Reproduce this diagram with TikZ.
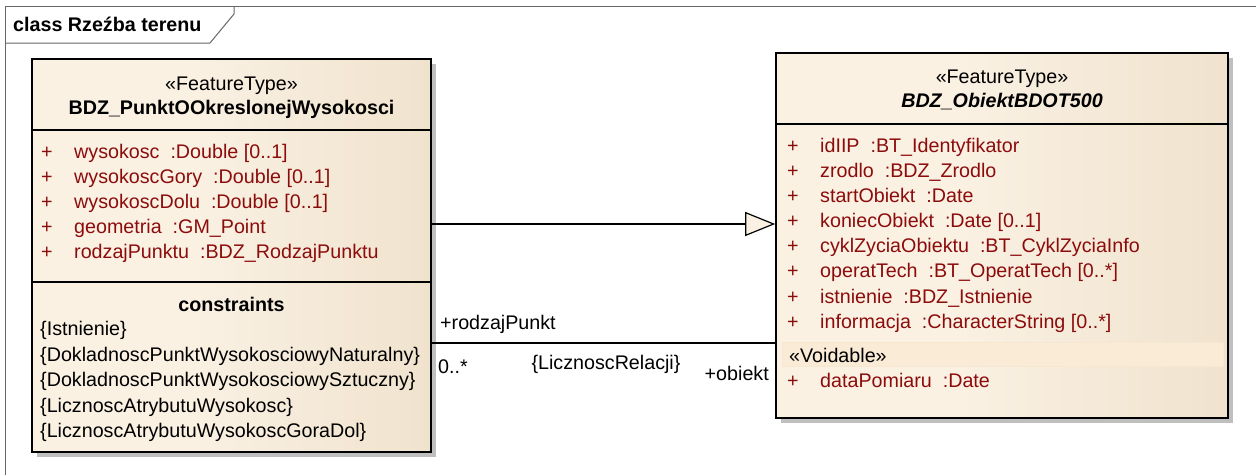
\documentclass[tikz,border=0pt]{standalone}
\usepackage{fontspec}
\setmainfont{Liberation Sans}
\usetikzlibrary{arrows.meta,shadows}
\definecolor{creme}{RGB}{250,241,227}
\definecolor{brun}{RGB}{232,215,188}
\definecolor{rouge}{RGB}{140,12,12}
\definecolor{voidable}{RGB}{250,235,214}
\pgfdeclarehorizontalshading{degrade}{100bp}{color(0bp)=(creme); color(45bp)=(creme); color(100bp)=(brun)}
\begin{document}
\begin{tikzpicture}[x=1pt,y=-1pt]
\tikzset{classe/.style={draw, line width=1.6pt, shading=degrade, drop shadow={shadow xshift=5pt, shadow yshift=-5pt, fill=black!25, opacity=1}},
txt/.style={inner sep=0pt, anchor=base west, font=\fontsize{19.7}{23}\selectfont},
titre/.style={txt, anchor=base},
gras/.style={titre, font=\bfseries\fontsize{19.7}{23}\selectfont},
attr/.style={txt, text=rouge}}
\useasboundingbox (0,0) rectangle (1256,475);
\draw[black!60, line width=1pt] (5,475) -- (5,6) -- (1256,6);
\draw[black!60, line width=1pt] (5,43) -- (210,43) -- (234,14) -- (234,6);
\node[txt, font=\bfseries\fontsize{19.7}{23}\selectfont] (T) at (13,31) {class Rzeźba terenu};
\node[classe, minimum width=399pt, minimum height=393pt] (P) at (231.5,255.5) {};
\node[classe, minimum width=452pt, minimum height=365pt] (O) at (1002,235.5) {};
\draw[line width=1.6pt] (P.west |- 0,130) -- (P.east |- 0,130);
\draw[line width=1.6pt] (P.west |- 0,282) -- (P.east |- 0,282);
\draw[line width=1.6pt] (O.west |- 0,124) -- (O.east |- 0,124);
\fill[voidable, draw=voidable!80!brun] (782,342) rectangle (1223,366);
\node[titre] (P0) at (231.5,90) {«FeatureType»};
\node[gras] (P1) at (231.5,114) {BDZ\_PunktOOkreslonejWysokosci};
\node[attr] (A1) at (41,158) {\makebox[33pt][l]{+}wysokosc\ \ :Double [0..1]};
\node[attr] (A2) at (41,183) {\makebox[33pt][l]{+}wysokoscGory\ \ :Double [0..1]};
\node[attr] (A3) at (41,208) {\makebox[33pt][l]{+}wysokoscDolu\ \ :Double [0..1]};
\node[attr] (A4) at (41,233) {\makebox[33pt][l]{+}geometria\ \ :GM\_Point};
\node[attr] (A5) at (41,258) {\makebox[33pt][l]{+}rodzajPunktu\ \ :BDZ\_RodzajPunktu};
\node[gras] (C0) at (231.5,311) {constraints};
\node[txt] (C1) at (40,335) {\{Istnienie\}};
\node[txt] (C2) at (40,361) {\{DokladnoscPunktWysokosciowyNaturalny\}};
\node[txt] (C3) at (40,386) {\{DokladnoscPunktWysokosciowySztuczny\}};
\node[txt] (C4) at (40,412) {\{LicznoscAtrybutuWysokosc\}};
\node[txt] (C5) at (40,437) {\{LicznoscAtrybutuWysokoscGoraDol\}};
\node[titre] (O0) at (1002,83) {«FeatureType»};
\node[gras, font=\bfseries\itshape\fontsize{19.7}{23}\selectfont] (O1) at (1002,107) {BDZ\_ObiektBDOT500};
\node[attr] (B1) at (787,152) {\makebox[33pt][l]{+}idIIP\ \ :BT\_Identyfikator};
\node[attr] (B2) at (787,177) {\makebox[33pt][l]{+}zrodlo\ \ :BDZ\_Zrodlo};
\node[attr] (B3) at (787,202) {\makebox[33pt][l]{+}startObiekt\ \ :Date};
\node[attr] (B4) at (787,227) {\makebox[33pt][l]{+}koniecObiekt\ \ :Date [0..1]};
\node[attr] (B5) at (787,252) {\makebox[33pt][l]{+}cyklZyciaObiektu\ \ :BT\_CyklZyciaInfo};
\node[attr] (B6) at (787,277) {\makebox[33pt][l]{+}operatTech\ \ :BT\_OperatTech [0..*]};
\node[attr] (B7) at (787,303) {\makebox[33pt][l]{+}istnienie\ \ :BDZ\_Istnienie};
\node[attr] (B8) at (787,328) {\makebox[33pt][l]{+}informacja\ \ :CharacterString [0..*]};
\node[txt] (V0) at (789,362) {«Voidable»};
\node[attr] (B9) at (787,387) {\makebox[33pt][l]{+}dataPomiaru\ \ :Date};
\draw[line width=1.2pt, -{Triangle[open, width=24pt, length=30pt, fill=creme]}] (P.east |- 0,224) -- (O.west |- 0,224);
\draw[line width=1.2pt] (P.east |- 0,343) -- (O.west |- 0,343);
\node[txt] (R1) at (440,329) {+rodzajPunkt};
\node[txt] (R2) at (438,373) {0..*};
\node[titre] (R3) at (606,369) {\{LicznoscRelacji\}};
\node[txt, anchor=base east] (R4) at (769,380) {+obiekt};
\end{tikzpicture}
\end{document}
